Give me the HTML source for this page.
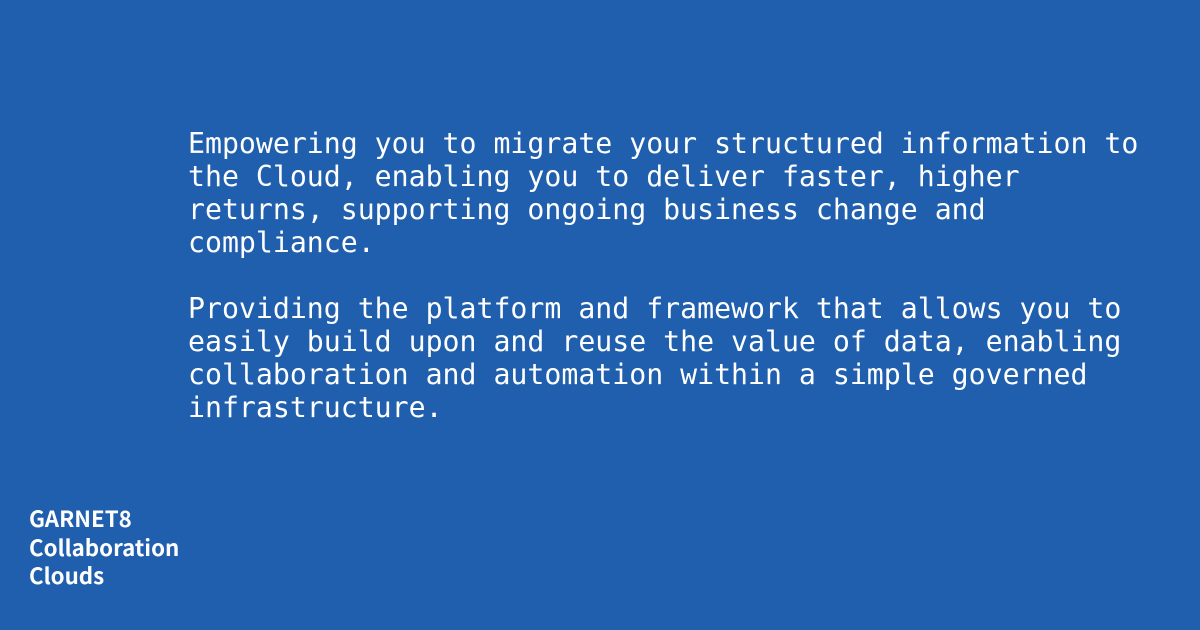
<!DOCTYPE html>
<html><head><meta charset="utf-8"><style>
html,body{margin:0;padding:0}
body{width:1200px;height:630px;background:#1f5fae;position:relative;overflow:hidden;color:#fff}
.main{position:absolute;left:188px;top:127px;font-family:"DejaVu Sans Mono","Liberation Mono",monospace;font-size:28.2px;line-height:33px;white-space:pre}
.logo{position:absolute;left:29px;top:504px;font-family:"Noto Sans CJK JP","Liberation Sans",sans-serif;font-weight:700;font-size:22.3px;line-height:28.5px}
</style></head><body>
<div class="main">Empowering you to migrate your structured information to
the Cloud, enabling you to deliver faster, higher
returns, supporting ongoing business change and
compliance.

Providing the platform and framework that allows you to
easily build upon and reuse the value of data, enabling
collaboration and automation within a simple governed
infrastructure.</div>
<div class="logo">GARNET8<br>Collaboration<br>Clouds</div>
</body></html>
